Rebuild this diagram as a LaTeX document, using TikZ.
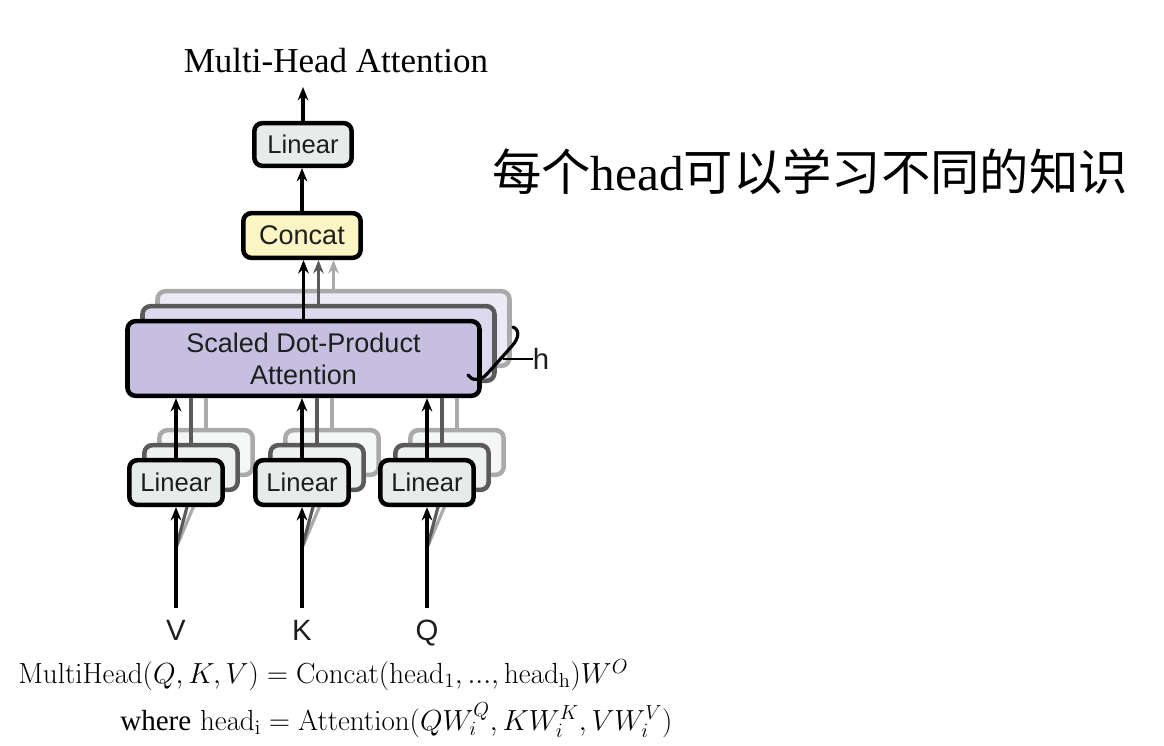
\RequirePackage{fix-cm}
\documentclass[tikz,border=0pt]{standalone}
\usepackage[no-math]{fontspec}
\newfontfamily\hel{Liberation Sans}
\newfontfamily\tms{Liberation Serif}
\newfontfamily\cjk{Noto Sans CJK SC}
\usetikzlibrary{arrows.meta}
\definecolor{linfill}{HTML}{E7ECEB}
\definecolor{linfillb}{HTML}{EEF1F0}
\definecolor{linfillc}{HTML}{F5F7F6}
\definecolor{catfill}{HTML}{FBF5C3}
\definecolor{sdpfill}{HTML}{C6BFE0}
\definecolor{sdpfillb}{HTML}{DCD8EE}
\definecolor{sdpfillc}{HTML}{ECEAF5}
\definecolor{txt}{HTML}{1E1E1E}
\definecolor{midgray}{HTML}{5A5A5A}
\definecolor{ltgray}{HTML}{AAAAAA}
\tikzset{
  px/.style={x=0.75pt,y=-0.75pt},
  boxbase/.style={rounded corners=6pt, line width=3.4pt, inner sep=0pt, text=txt, font=\hel\fontsize{19.2}{20}\selectfont},
  linbox/.style={boxbase, draw=black, fill=linfill, minimum width=70pt, minimum height=33.5pt},
  linboxb/.style={boxbase, draw=midgray, fill=linfillb, minimum width=70pt, minimum height=33.5pt},
  linboxc/.style={boxbase, draw=ltgray, fill=linfillc, minimum width=70pt, minimum height=33.5pt},
  catbox/.style={boxbase, draw=black, fill=catfill, minimum width=88pt, minimum height=33.5pt, font=\hel\fontsize{20.25}{22}\selectfont},
  toplin/.style={boxbase, draw=black, fill=linfill, minimum width=73pt, minimum height=32pt},
  sdpbox/.style={boxbase, draw=black, fill=sdpfill, minimum width=264pt, minimum height=56pt, align=center, font=\hel\fontsize{20.25}{24}\selectfont},
  sdpboxb/.style={boxbase, draw=midgray, fill=sdpfillb, minimum width=264pt, minimum height=56pt},
  sdpboxc/.style={boxbase, draw=ltgray, fill=sdpfillc, minimum width=264pt, minimum height=56pt},
  arr/.style={line width=2.6pt, -{Stealth[length=10pt,width=8pt]}},
  arrb/.style={arr, draw=midgray},
  arrc/.style={arr, draw=ltgray},
  ln/.style={line width=2.4pt},
  lnb/.style={ln, draw=midgray},
  lnc/.style={ln, draw=ltgray},
  lbl/.style={text=txt, font=\hel\fontsize{22}{24}\selectfont, inner sep=0pt},
  formula/.style={anchor=west, inner sep=0pt, font=\fontsize{21.8}{26}\selectfont},
}
\begin{document}
\begin{tikzpicture}[px]
\useasboundingbox (0,0) rectangle (1164,746);
\fill[white] (0,0) rectangle (1164,746);

% title and Chinese text
\node[font=\tms\fontsize{26.25}{30}\selectfont, inner sep=0pt] (title) at (336,61) {Multi-Head Attention};
\node[font=\fontsize{37}{42}\selectfont, inner sep=0pt] (cn) at (810,172) {\cjk 每个{\tms head}可以学习不同的知识};

% input coordinates
\coordinate (inV) at (176,608);
\coordinate (inK) at (302,608);
\coordinate (inQ) at (427,608);
\coordinate (fV) at (176,548);
\coordinate (fK) at (302,548);
\coordinate (fQ) at (427,548);
\coordinate (outTop) at (303,87);

% back layers of linear boxes (third)
\foreach \n/\x in {V/176,K/302,Q/427}{
  \node[linboxc] (lin\n c) at (\x+30,452.5) {};
}
\foreach \n in {V,K,Q}{ \draw[lnc] (f\n) -- (lin\n c.south); }
\foreach \n/\x in {V/176,K/302,Q/427}{
  \node[linboxb] (lin\n b) at (\x+15,467.5) {};
}
\foreach \n in {V,K,Q}{ \draw[lnb] (f\n) -- (lin\n b.south); }

% front linear boxes
\node[linbox] (linV) at (176,482.5) {Linear};
\node[linbox] (linK) at (302,482.5) {Linear};
\node[linbox] (linQ) at (427,482.5) {Linear};

% SDPA stack
\node[sdpboxc] (sdpc) at (333.5,328.5) {};
\node[sdpboxb] (sdpb) at (318.5,343.5) {};
\node[sdpbox] (sdp) at (303.5,358.5) {Scaled Dot-Product\\Attention};

% lines from back linear layers to SDPA
\foreach \n in {V,K,Q}{
  \draw[lnc] (lin\n c.north) -- (lin\n c.north |- sdp.south);
  \draw[lnb] (lin\n b.north) -- (lin\n b.north |- sdp.south);
  \draw[arr] (lin\n.north) -- (lin\n.north |- sdp.south);
}

% Concat and top linear
\node[catbox] (cat) at (302,235.5) {Concat};
\node[toplin] (linT) at (303,144.5) {Linear};

\draw[arrc] (sdpc.north) -- (sdpc.north |- cat.south);
\draw[arrb] (sdpb.north) -- (sdpb.north |- cat.south);
\draw[arr] (sdp.north) -- (sdp.north |- cat.south);
\draw[arr] (cat.north) -- (cat.north |- linT.south);
\draw[arr] (linT.north) -- (linT.north |- outTop);

% inputs
\draw[arr] (inV) -- (linV.south);
\draw[arr] (inK) -- (linK.south);
\draw[arr] (inQ) -- (linQ.south);
\node[lbl, anchor=base] (lV) at (176,640) {V};
\node[lbl, anchor=base] (lK) at (302,640) {K};
\node[lbl, anchor=base] (lQ) at (427,640) {Q};

% brace and h
\draw[line width=2.4pt, line cap=round] (513,327) .. controls (520,330) and (519,338) .. (512,346) -- (487,374) .. controls (481,381) and (471,381) .. (468,375);
\coordinate (hb) at (503,359);
\node[lbl, anchor=base] (h) at (541,369) {h};
\draw[line width=1.6pt] (hb) -- (hb -| h.west);

% formulas
\node[formula] (f1) at (18,675)
  {$\mathrm{MultiHead}(Q,K,V) = \mathrm{Concat}(\mathrm{head}_1,...,\mathrm{head}_\mathrm{h})W^O$};
\node[formula] (f2) at (120,720)
  {{\tms where} $\mathrm{head}_\mathrm{i} = \mathrm{Attention}(QW^Q_i, KW^K_i, VW^V_i)$};
\end{tikzpicture}
\end{document}
